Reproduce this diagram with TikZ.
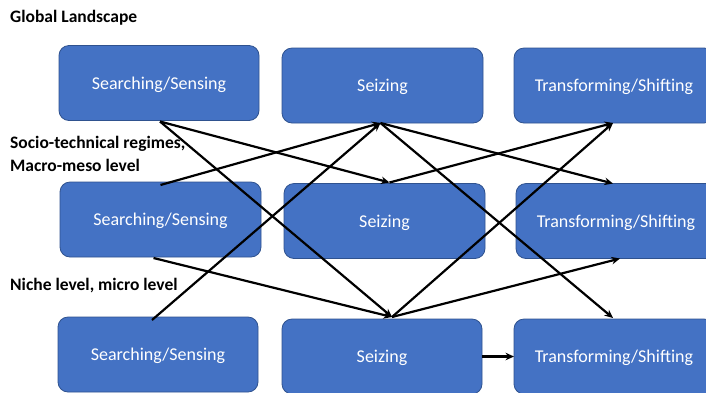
\documentclass[tikz,border=0pt]{standalone}
\usepackage{fontspec}
\setmainfont{Carlito}
\usetikzlibrary{arrows.meta,calc}
\definecolor{boxfill}{HTML}{4472C4}
\definecolor{boxline}{HTML}{2F528F}
\tikzset{
  blk/.style={draw=boxline, line width=0.8pt, fill=boxfill, rounded corners=10pt,
    minimum width=200pt, minimum height=75pt, inner sep=0pt, outer sep=0pt,
    text depth=0pt, text=white, font=\fontsize{18}{21}\selectfont},
  lbl/.style={anchor=west, inner sep=0pt, font=\bfseries\fontsize{17.5}{21}\selectfont, align=left},
  con/.style={line width=2.2pt, -{Stealth[length=8.5pt,width=7.5pt]}}
}
\begin{document}
\begin{tikzpicture}[x=1pt,y=-1pt]
\useasboundingbox[fill=white] (0,0) rectangle (706,392);
% labels
\node[lbl] (gl) at (10,18) {Global Landscape};
\node[lbl] (st) at (10,144) {Socio-technical regimes,};
\node[lbl] (mm) at (10,165) {Macro-meso level};
\node[lbl] (nl) at (10,286) {Niche level, micro level};
% boxes
\node[blk] (s1) at (159,83) {Searching/Sensing};
\node[blk, minimum width=201pt] (z1) at (382.5,85.5) {Seizing};
\node[blk] (t1) at (614,85.5) {Transforming/Shifting};
\node[blk, minimum width=201pt] (s2) at (160.5,219.5) {Searching/Sensing};
\node[blk, minimum width=201pt] (z2) at (384.5,221) {Seizing};
\node[blk] (t2) at (616,221) {Transforming/Shifting};
\node[blk] (s3) at (158,354.5) {Searching/Sensing};
\node[blk] (z3) at (382,356.5) {Seizing};
\node[blk] (t3) at (614,356.5) {Transforming/Shifting};
% connectors
\coordinate (s1b) at ($(s1.south)+(1,1)$);
\coordinate (z1b) at ($(z1.south)+(-2,0)$);
\coordinate (z2t) at ($(z2.north)+(5,-1)$);
\coordinate (t1b) at ($(t1.south)+(-1,0)$);
\coordinate (t2t) at ($(t2.north)+(-3,0)$);
\coordinate (t2b) at ($(t2.south)+(4,0)$);
\coordinate (z3t) at ($(z3.north)+(10,-2)$);
\coordinate (s2t) at ($(s2.north)+(0,3)$);
\coordinate (s2b) at ($(s2.south)+(-7,1)$);
\coordinate (s3t) at ($(s3.north)+(-6,3)$);
\coordinate (t3t) at ($(t3.north)+(-1,-1)$);
\draw[con] (s1b) -- (z2t);
\draw[con] (s1b) -- (z3t);
\draw[con] (s2t) -- (z1b);
\draw[con] (s3t) -- (z1b);
\draw[con] (z1b) -- (t2t);
\draw[con] (z1b) -- (t3t);
\draw[con] (z2t) -- (t1b);
\draw[con] (s2b) -- (z3t);
\draw[con] (z3t) -- (t1b);
\draw[con] (z3t) -- (t2b);
\draw[con] (z3.east) -- (t3.west);
\end{tikzpicture}
\end{document}
